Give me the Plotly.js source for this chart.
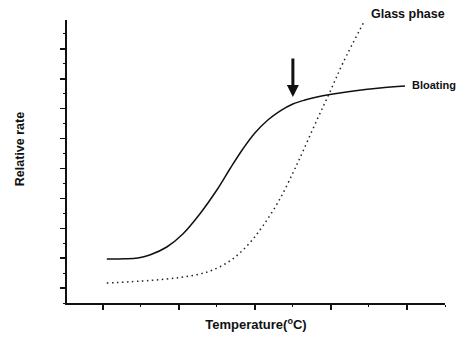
<!DOCTYPE html>
<html>
<head>
<meta charset="utf-8">
<script src="https://cdn.plot.ly/plotly-3.0.1.min.js"></script>
<style>html,body{margin:0;padding:0;background:#fff;}#chart{width:465px;height:338px;}</style>
</head>
<body>
<div id="chart"></div>
<script>
// Temperature (arbitrary units) and relative rate (arbitrary units)
var bloatingX = [1.053, 1.289, 1.461, 1.618, 1.842, 2.053, 2.276, 2.500, 2.671, 2.842, 3.000, 3.171, 3.329, 3.500, 3.658, 3.816, 3.987, 4.250, 4.645, 4.974];
var bloatingY = [1.972, 1.978, 2.005, 2.105, 2.373, 2.808, 3.477, 4.279, 4.982, 5.651, 6.186, 6.620, 6.921, 7.156, 7.289, 7.390, 7.473, 7.574, 7.691, 7.758];
var glassX = [1.053, 1.618, 2.013, 2.276, 2.447, 2.671, 2.895, 3.105, 3.329, 3.500, 3.592, 3.816, 3.987, 4.158, 4.447];
var glassY = [1.169, 1.253, 1.353, 1.470, 1.604, 1.905, 2.406, 3.075, 3.978, 4.848, 5.348, 6.620, 7.557, 8.527, 9.965];
var seriesNames = ["Bloating", "Glass phase"];
var arrowX = 3.50, arrowY = 7.39;
var xTitle = "Temperature(<sup>o</sup>C)";
var yTitle = "Relative rate";

var traces = [
  {x: bloatingX, y: bloatingY, mode: "lines", name: seriesNames[0],
   line: {color: "#111", width: 1.5, shape: "spline", smoothing: 1}},
  {x: glassX, y: glassY, mode: "lines", name: seriesNames[1],
   line: {color: "#222", width: 1.5, dash: "1.5px,3.5px", shape: "spline", smoothing: 1}}
];

var font = {family: "Liberation Sans, Arial, sans-serif", color: "#111"};

var layout = {
  width: 465, height: 338,
  margin: {l: 67, r: 20, t: 20, b: 35},
  paper_bgcolor: "#fff", plot_bgcolor: "#fff",
  showlegend: false,
  font: font,
  xaxis: {
    range: [0.53, 5.5], showgrid: false, zeroline: false,
    showline: true, linecolor: "#111", linewidth: 2,
    ticks: "outside", tick0: 1, dtick: 1, ticklen: 5, tickwidth: 1.5, tickcolor: "#111",
    minor: {ticks: "outside", dtick: 0.5, tick0: 1, ticklen: 2, tickwidth: 1, tickcolor: "#111"},
    showticklabels: false,
    title: {text: xTitle, font: {family: font.family, size: 13, color: "#111", weight: "bold"}, standoff: 11}
  },
  yaxis: {
    range: [0.5, 9.965], showgrid: false, zeroline: false,
    showline: true, linecolor: "#111", linewidth: 2,
    ticks: "outside", tick0: 1, dtick: 1, ticklen: 5, tickwidth: 1.5, tickcolor: "#111",
    minor: {ticks: "outside", dtick: 0.5, tick0: 1, ticklen: 2.5, tickwidth: 1, tickcolor: "#111"},
    showticklabels: false
  },
  annotations: [
    {xref: "paper", yref: "paper", x: -0.124, y: 0.544, text: "<b>" + yTitle + "</b>", textangle: -90,
     showarrow: false, xanchor: "center", yanchor: "middle",
     font: {family: font.family, size: 12.5, color: "#111"}},
    {x: arrowX, y: arrowY, xref: "x", yref: "y", text: "", showarrow: true,
     ax: 0, ay: -40, arrowhead: 2, arrowsize: 0.8, arrowwidth: 3, arrowcolor: "#111"},
    {x: glassX[glassX.length - 1], y: glassY[glassY.length - 1], xref: "x", yref: "y",
     text: "<b>" + seriesNames[1] + "</b>", showarrow: false, xanchor: "left", yanchor: "middle",
     xshift: 4, yshift: 6, font: {family: font.family, size: 12.5, color: "#111"}},
    {x: bloatingX[bloatingX.length - 1], y: bloatingY[bloatingY.length - 1], xref: "x", yref: "y",
     text: "<b>" + seriesNames[0] + "</b>", showarrow: false, xanchor: "left", yanchor: "middle",
     xshift: 5, yshift: 1, font: {family: font.family, size: 11, color: "#111"}}
  ]
};

Plotly.newPlot("chart", traces, layout, {displayModeBar: false, staticPlot: true});
</script>
</body>
</html>
